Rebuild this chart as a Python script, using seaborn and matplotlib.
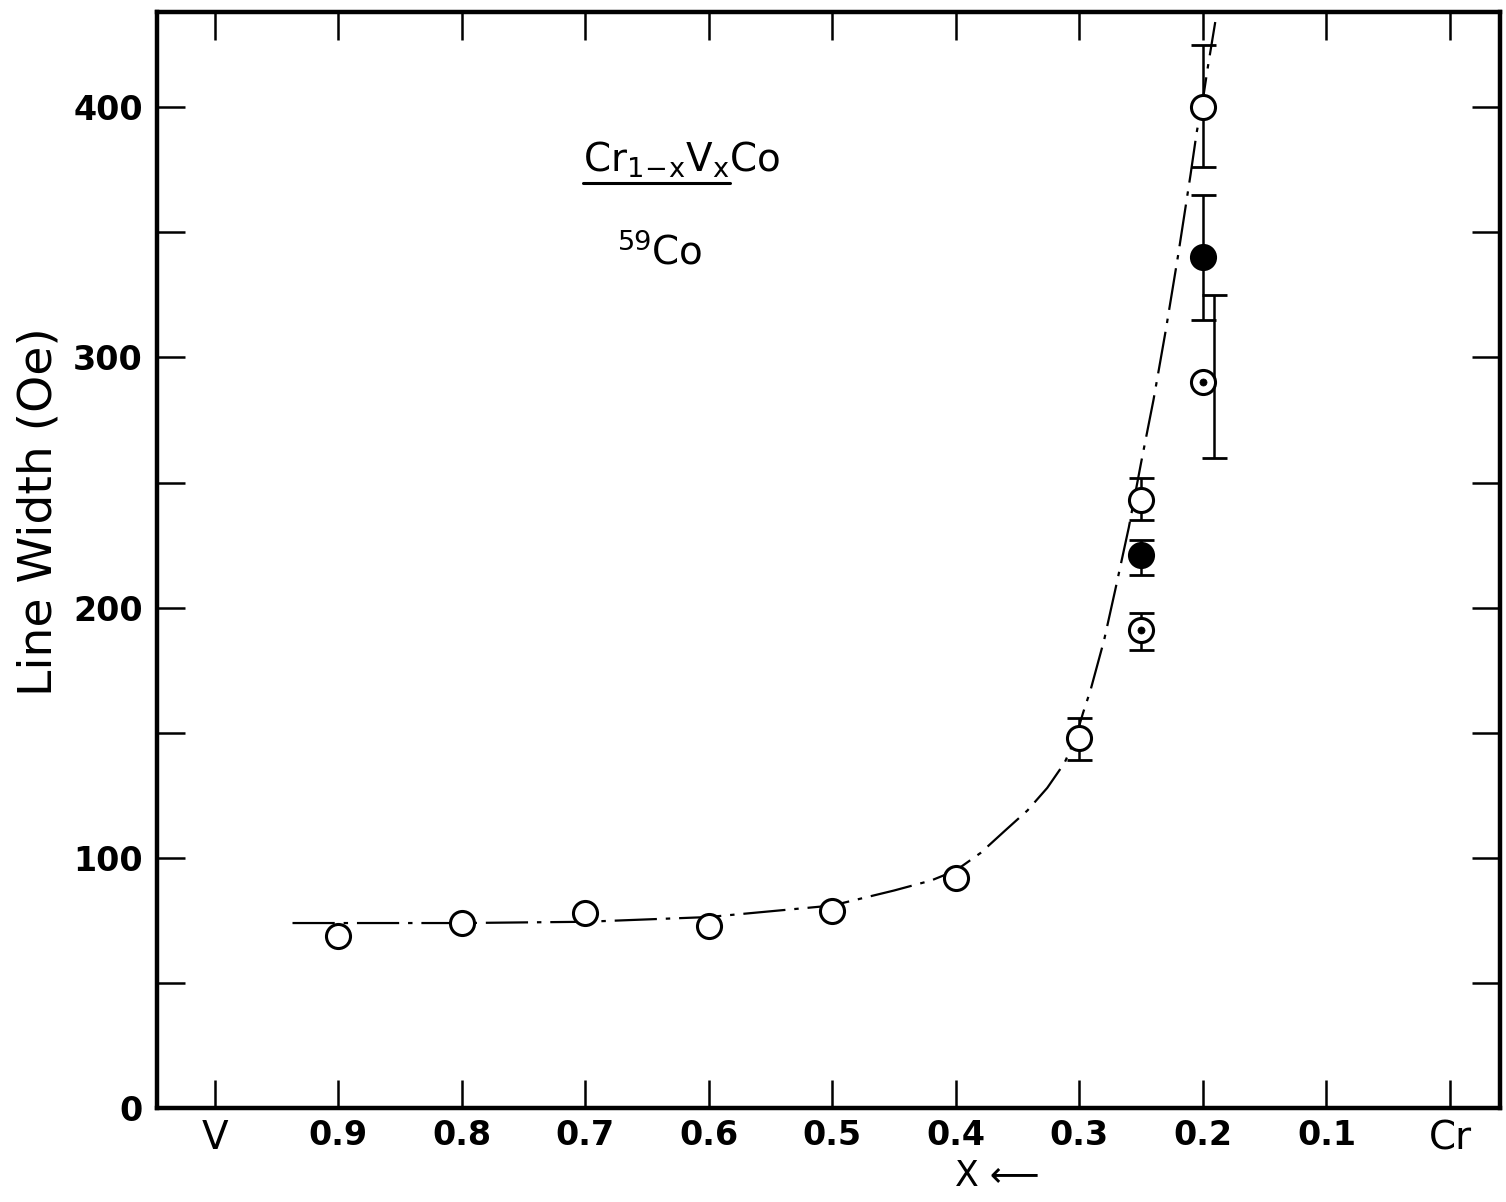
import matplotlib
matplotlib.use("Agg")
import matplotlib.pyplot as plt
import seaborn as sns
import pandas as pd
from matplotlib.lines import Line2D

# ---------------- data ----------------
open_x = [0.9, 0.8, 0.7, 0.6, 0.5, 0.4, 0.3, 0.25, 0.2]
open_y = [69, 74, 78, 73, 79, 92, 148, 243, 400]

filled_x = [0.25, 0.2]
filled_y = [221, 340]

dotted_x = [0.25, 0.2]
dotted_y = [191, 290]

err_x = [0.3, 0.25, 0.25, 0.25, 0.2, 0.2, 0.191]
err_lo = [139, 235, 213, 183, 376, 315, 260]
err_hi = [156, 252, 227, 198, 425, 365, 325]

curve_x = [0.937, 0.9, 0.8, 0.7, 0.6, 0.5, 0.45, 0.42, 0.4, 0.38, 0.36,
           0.342, 0.326, 0.312, 0.303, 0.297, 0.291, 0.28, 0.271, 0.26,
           0.25, 0.24, 0.23, 0.22, 0.21, 0.205, 0.2, 0.196, 0.19]
curve_y = [74, 74, 74, 74.5, 76.4, 81, 87, 91, 95, 102, 111,
           119, 128, 138, 148, 158, 167, 187, 207, 232,
           258, 283, 311, 341, 373, 390, 403, 416, 434]

x_ticks = [1.0, 0.9, 0.8, 0.7, 0.6, 0.5, 0.4, 0.3, 0.2, 0.1, 0.0]
x_ticklabels = ["V", "0.9", "0.8", "0.7", "0.6", "0.5", "0.4", "0.3", "0.2", "0.1", "Cr"]
y_ticks = [0, 50, 100, 150, 200, 250, 300, 350, 400]
y_ticklabels = ["0", "", "100", "", "200", "", "300", "", "400"]

title_text = "Cr$\\mathregular{_{1\\!-\\!x}}$V$\\mathregular{_x}$Co"
title_part = "Cr$\\mathregular{_{1\\!-\\!x}}$V$\\mathregular{_x}$"
nucleus_text = "$\\mathregular{^{59}}$Co"
x_label = "X \u27f5"
y_label = "Line Width (Oe)"

# ---------------- style ----------------
sns.set_style("ticks")
plt.rcParams["font.family"] = ["DejaVu Sans"]
plt.rcParams["mathtext.fontset"] = "dejavusans"
plt.rcParams["text.color"] = "black"
plt.rcParams["axes.labelcolor"] = "black"

fig = plt.figure(figsize=(15.06, 12.02), dpi=100)
ax = fig.add_axes([0.104, 0.078, 0.892, 0.912])

# curve
curve_df = pd.DataFrame({"x": curve_x, "y": curve_y})
sns.lineplot(data=curve_df, x="x", y="y", sort=False, estimator=None,
             color="black", lw=1.6, ax=ax, zorder=2)
ax.lines[-1].set_linestyle((0, (19, 4, 2, 4)))
ax.lines[-1].set_solid_capstyle("butt")

# error bars
mid = [(a + b) / 2 for a, b in zip(err_lo, err_hi)]
half = [(b - a) / 2 for a, b in zip(err_lo, err_hi)]
ax.errorbar(err_x, mid, yerr=half, fmt="none", ecolor="black",
            elinewidth=1.8, capsize=9, capthick=2.0, zorder=3)

# markers
sns.scatterplot(x=open_x, y=open_y, s=300, marker="o", facecolor="white",
                edgecolor="black", linewidth=2.2, ax=ax, zorder=4)
sns.scatterplot(x=filled_x, y=filled_y, s=300, marker="o", facecolor="black",
                edgecolor="black", linewidth=2.2, ax=ax, zorder=4)
sns.scatterplot(x=dotted_x, y=dotted_y, s=300, marker="o", facecolor="white",
                edgecolor="black", linewidth=2.2, ax=ax, zorder=4)
sns.scatterplot(x=dotted_x, y=dotted_y, s=26, marker="o", facecolor="black",
                edgecolor="black", linewidth=0.5, ax=ax, zorder=5)

# axes
ax.set_xlim(1.047, -0.0405)
ax.set_ylim(0, 438)
ax.set_xticks(x_ticks)
ax.set_xticklabels(x_ticklabels)
ax.set_yticks(y_ticks)
ax.set_yticklabels(y_ticklabels)
ax.tick_params(axis="both", direction="in", length=20, width=1.8,
               top=True, right=True, labelsize=24, colors="black")
ax.tick_params(axis="x", pad=8)
ax.tick_params(axis="y", pad=10)
for lab in ax.get_xticklabels() + ax.get_yticklabels():
    lab.set_fontweight("bold")
    if lab.get_text() in ("V", "Cr"):
        lab.set_fontsize(28)
        lab.set_fontweight("normal")
for sp in ax.spines.values():
    sp.set_linewidth(3.2)
    sp.set_color("black")

ax.set_xlabel(x_label, fontsize=25)
ax.xaxis.set_label_coords(0.626, -0.046)
ax.set_ylabel(y_label, fontsize=34)
ax.yaxis.set_label_coords(-0.071, 0.544)

# annotations
t_full = ax.text(0.702, 374, title_text, fontsize=28, ha="left", va="baseline")
t_part = ax.text(0.702, 374, title_part, fontsize=28, ha="left", va="baseline",
                 alpha=0)
ax.text(0.674, 337, nucleus_text, fontsize=28, ha="left", va="baseline")

fig.canvas.draw()
bb = t_part.get_window_extent()
inv = fig.transFigure.inverted()
(x0, y0), (x1, _) = inv.transform([(bb.x0, bb.y0 - 3), (bb.x1, bb.y0 - 3)])
fig.add_artist(Line2D([x0, x1], [y0, y0], transform=fig.transFigure,
                      color="black", lw=2.2))

fig.savefig("out.png", dpi=100)
